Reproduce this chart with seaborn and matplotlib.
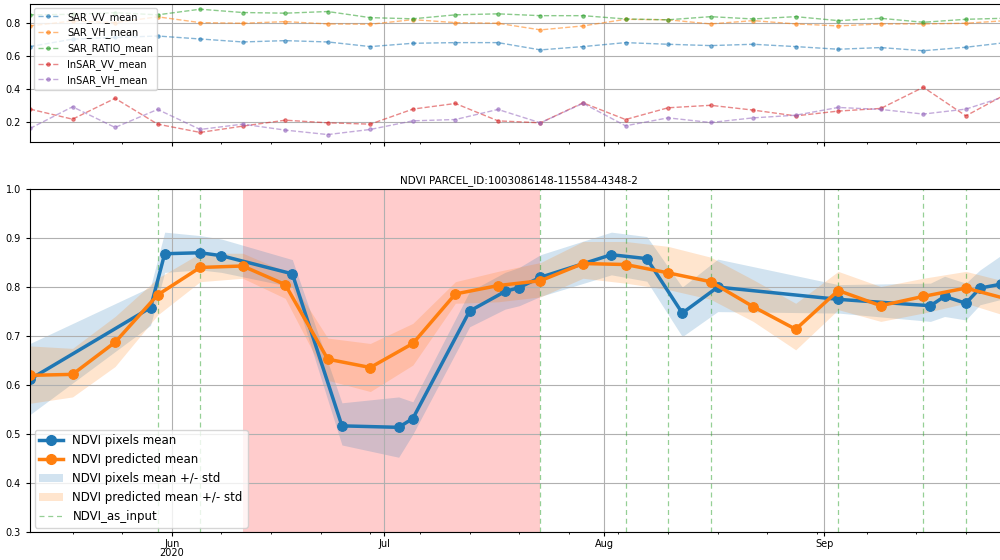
import numpy as np
import pandas as pd
import matplotlib
matplotlib.use("Agg")
import matplotlib.pyplot as plt
import matplotlib.dates as mdates
from matplotlib.lines import Line2D
from matplotlib.patches import Patch
import seaborn as sns

# --- SAR / InSAR series (top panel), one value every 6 days ---
sar_dates = pd.date_range("2020-05-12", "2020-09-27", freq="6D")
sar_vv = [0.655, 0.700, 0.710, 0.719, 0.701, 0.683, 0.691, 0.683, 0.655, 0.675, 0.679, 0.679,
          0.635, 0.655, 0.679, 0.669, 0.661, 0.669, 0.655, 0.639, 0.649, 0.630, 0.651, 0.681]
sar_vh = [0.780, 0.810, 0.800, 0.835, 0.800, 0.796, 0.806, 0.792, 0.790, 0.818, 0.800, 0.796,
          0.756, 0.780, 0.820, 0.817, 0.792, 0.812, 0.792, 0.780, 0.792, 0.792, 0.796, 0.813]
sar_ratio = [0.847, 0.850, 0.860, 0.847, 0.881, 0.861, 0.857, 0.867, 0.830, 0.823, 0.847, 0.853,
             0.842, 0.842, 0.822, 0.817, 0.836, 0.822, 0.836, 0.812, 0.826, 0.802, 0.820, 0.827]
insar_vv = [0.277, 0.216, 0.342, 0.186, 0.136, 0.174, 0.210, 0.194, 0.186, 0.277, 0.311, 0.206,
            0.194, 0.315, 0.214, 0.285, 0.300, 0.271, 0.236, 0.265, 0.281, 0.409, 0.236, 0.375]
insar_vh = [0.160, 0.291, 0.166, 0.275, 0.154, 0.186, 0.150, 0.123, 0.154, 0.206, 0.214, 0.275,
            0.194, 0.312, 0.176, 0.224, 0.196, 0.224, 0.240, 0.287, 0.275, 0.247, 0.277, 0.360]
sar_names = ["SAR_VV_mean", "SAR_VH_mean", "SAR_RATIO_mean", "InSAR_VV_mean", "InSAR_VH_mean"]

# --- NDVI observed pixels ---
pix_dates = pd.to_datetime(["2020-05-12", "2020-05-29", "2020-05-31", "2020-06-05", "2020-06-08",
                            "2020-06-18", "2020-06-25", "2020-07-03", "2020-07-05", "2020-07-13",
                            "2020-07-18", "2020-07-20", "2020-07-23", "2020-08-02", "2020-08-07",
                            "2020-08-12", "2020-08-17", "2020-09-03", "2020-09-16", "2020-09-18",
                            "2020-09-21", "2020-09-23", "2020-09-26"])
pix_mean = [0.612, 0.758, 0.868, 0.870, 0.864, 0.827, 0.517, 0.514, 0.532, 0.751, 0.791, 0.799,
            0.820, 0.866, 0.858, 0.747, 0.800, 0.775, 0.762, 0.781, 0.767, 0.798, 0.806]
pix_upper = [0.685, 0.800, 0.912, 0.905, 0.898, 0.856, 0.564, 0.576, 0.566, 0.791, 0.830, 0.840,
             0.866, 0.912, 0.903, 0.800, 0.857, 0.805, 0.808, 0.822, 0.808, 0.835, 0.865]
pix_lower = [0.540, 0.722, 0.830, 0.835, 0.830, 0.800, 0.478, 0.453, 0.500, 0.719, 0.755, 0.762,
             0.781, 0.825, 0.812, 0.699, 0.750, 0.747, 0.730, 0.740, 0.733, 0.764, 0.775]

# --- NDVI predicted, every 6 days ---
pred_dates = sar_dates
pred_mean = [0.620, 0.622, 0.6875, 0.784, 0.840, 0.843, 0.805, 0.653, 0.636, 0.685, 0.786, 0.803,
             0.813, 0.848, 0.846, 0.829, 0.811, 0.760, 0.714, 0.793, 0.762, 0.781, 0.798, 0.775]
pred_upper = [0.680, 0.675, 0.740, 0.818, 0.869, 0.869, 0.832, 0.696, 0.685, 0.726, 0.811, 0.832,
              0.850, 0.893, 0.893, 0.883, 0.861, 0.815, 0.767, 0.832, 0.801, 0.818, 0.832, 0.810]
pred_lower = [0.563, 0.576, 0.638, 0.743, 0.811, 0.818, 0.777, 0.610, 0.587, 0.641, 0.767, 0.770,
              0.780, 0.818, 0.808, 0.795, 0.775, 0.730, 0.672, 0.754, 0.730, 0.747, 0.767, 0.740]

# NDVI images used as model input, and the gap period
input_dates = pd.to_datetime(["2020-05-30", "2020-06-05", "2020-07-23", "2020-08-04", "2020-08-10",
                              "2020-08-16", "2020-09-03", "2020-09-15", "2020-09-21"])
gap_start, gap_end = pd.Timestamp("2020-06-11"), pd.Timestamp("2020-07-23")

month_ticks = pd.to_datetime(["2020-06-01", "2020-07-01", "2020-08-01", "2020-09-01"])
month_labels = ["Jun\n2020", "Jul", "Aug", "Sep"]

title = "NDVI PARCEL_ID:1003086148-115584-4348-2"

plt.rcParams["font.size"] = 7
plt.rcParams["axes.grid"] = True

fig = plt.figure(figsize=(10, 5.6), dpi=100)
ax_top = fig.add_axes([0.03, 0.747, 0.9784, 0.246])
ax = fig.add_axes([0.03, 0.0495, 0.9784, 0.613], sharex=ax_top)

# Top panel: SAR features
colors = sns.color_palette("tab10")
for i, (name, vals) in enumerate(zip(sar_names, [sar_vv, sar_vh, sar_ratio, insar_vv, insar_vh])):
    sns.lineplot(x=sar_dates, y=vals, ax=ax_top, color=colors[i], linestyle="--", marker=".",
                 markersize=5, linewidth=1, alpha=0.55, mec=colors[i], label=name)
ax_top.set_ylim(0.08, 0.913)
ax_top.set_yticks([0.2, 0.4, 0.6, 0.8])
ax_top.legend(loc="upper left", fontsize=7, borderaxespad=0.4, handlelength=2.2)

# Bottom panel: NDVI
ax.axvspan(gap_start, gap_end, color="red", alpha=0.2, lw=0, zorder=0)
ax.fill_between(pix_dates, pix_lower, pix_upper, color=colors[0], alpha=0.2, lw=0)
ax.fill_between(pred_dates, pred_lower, pred_upper, color=colors[1], alpha=0.2, lw=0)
for d in input_dates:
    ax.axvline(d, color=colors[2], linestyle=(0, (4, 3)), linewidth=0.9, alpha=0.5)
sns.lineplot(x=pix_dates, y=pix_mean, ax=ax, color=colors[0], marker="o", markersize=7,
             linewidth=2.5, mec=colors[0], label="NDVI pixels mean")
sns.lineplot(x=pred_dates, y=pred_mean, ax=ax, color=colors[1], marker="o", markersize=7,
             linewidth=2.5, mec=colors[1], label="NDVI predicted mean")
ax.set_ylim(0.3, 1.0)
ax.set_title(title, fontsize=7.5, pad=4)

handles = [
    Line2D([], [], color=colors[0], marker="o", markersize=7, linewidth=2.5),
    Line2D([], [], color=colors[1], marker="o", markersize=7, linewidth=2.5),
    Patch(facecolor=colors[0], alpha=0.2),
    Patch(facecolor=colors[1], alpha=0.2),
    Line2D([], [], color=colors[2], linestyle=(0, (4, 3)), linewidth=0.9, alpha=0.5),
]
labels = ["NDVI pixels mean", "NDVI predicted mean", "NDVI pixels mean +/- std",
          "NDVI predicted mean +/- std", "NDVI_as_input"]
ax.legend(handles, labels, loc="lower left", fontsize=8.5, borderaxespad=0.4)

for a in (ax_top, ax):
    a.set_xlabel("")
    a.set_ylabel("")
    a.set_xlim(pd.Timestamp("2020-05-12"), pd.Timestamp("2020-09-27"))
    a.xaxis.set_minor_locator(mdates.WeekdayLocator(byweekday=mdates.MO))
    a.tick_params(which="major", length=3)
    a.tick_params(which="minor", length=1.5)
ax.set_xticks(month_ticks)
ax.set_xticklabels(month_labels, linespacing=0.95)
ax.tick_params(axis="x", which="major", pad=1.5)
ax_top.tick_params(labelbottom=False)

fig.savefig("out.png", dpi=100)
